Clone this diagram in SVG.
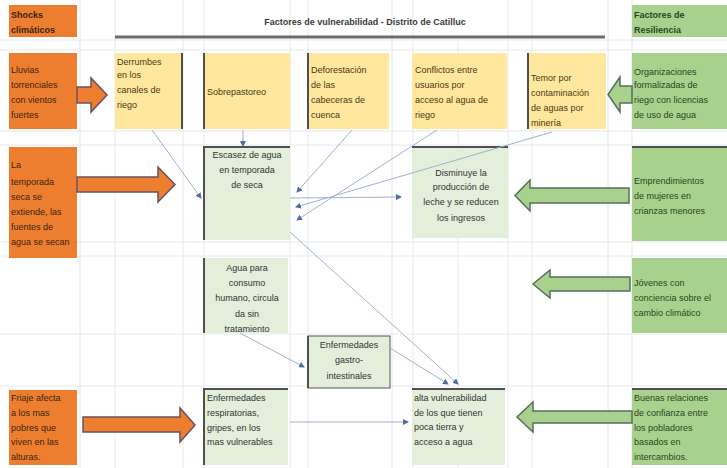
<svg xmlns="http://www.w3.org/2000/svg" width="727" height="468" viewBox="0 0 727 468">
<style>
text{font-family:"Liberation Sans",Arial,sans-serif;font-size:9px;}
.grid line{stroke:#e6e8ea;stroke-width:1;}
.or{fill:#EE7E2F;}
.ye{fill:#FFE79E;}
.gr{fill:#A9D18E;}
.lg{fill:#E3EFDA;}
.dk{stroke:#4f4f4f;stroke-width:2;fill:none;}
.tor{fill:#3a2410;}
.tgr{fill:#2a4620;}
.tye{fill:#4a3a12;}
.tlg{fill:#333;}
.c{text-anchor:middle;}
.b{font-weight:bold;}
.ao{fill:#EE7E2F;stroke:#6b5062;stroke-width:1.5;}
.ag{fill:#A9D18E;stroke:#55705a;stroke-width:1.5;}
.conn line{stroke:#9fb2cc;stroke-width:1;marker-end:url(#ah);}
</style>
<defs>
<marker id="ah" markerWidth="6" markerHeight="6" refX="5" refY="3" orient="auto" markerUnits="userSpaceOnUse">
<path d="M0,0 L6,3 L0,6 z" fill="#4a6fa5"/>
</marker>
</defs>
<rect width="727" height="468" fill="#fff"/>
<g class="grid">
<line x1="80" y1="0" x2="80" y2="468"/><line x1="115" y1="0" x2="115" y2="468"/>
<line x1="183" y1="0" x2="183" y2="468"/><line x1="204" y1="0" x2="204" y2="468"/>
<line x1="290" y1="0" x2="290" y2="468"/><line x1="308" y1="0" x2="308" y2="468"/>
<line x1="392" y1="0" x2="392" y2="468"/><line x1="413" y1="0" x2="413" y2="468"/>
<line x1="458" y1="40" x2="458" y2="468"/><line x1="508" y1="0" x2="508" y2="468"/>
<line x1="532" y1="0" x2="532" y2="468"/><line x1="608" y1="0" x2="608" y2="468"/>
<line x1="632" y1="0" x2="632" y2="468"/>
<line x1="0" y1="40" x2="727" y2="40"/><line x1="0" y1="50" x2="727" y2="50"/>
<line x1="0" y1="131" x2="727" y2="131"/><line x1="0" y1="145" x2="727" y2="145"/>
<line x1="0" y1="242" x2="727" y2="242"/><line x1="0" y1="256" x2="727" y2="256"/>
<line x1="0" y1="334" x2="727" y2="334"/><line x1="0" y1="386" x2="727" y2="386"/>
</g>
<g id="header">
<rect class="or" x="9" y="5" width="68" height="32"/>
<text class="tor b" x="11" y="18">Shocks</text>
<text class="tor b" x="11" y="33">climáticos</text>
<text class="b" x="365" y="25" text-anchor="middle" fill="#3a3a3a">Factores de vulnerabilidad - Distrito de Catilluc</text>
<line x1="115" y1="37" x2="605" y2="37" stroke="#6d6d6d" stroke-width="3"/>
<rect class="gr" x="632" y="5" width="95" height="32"/>
<text class="tgr b" x="634" y="18">Factores de</text>
<text class="tgr b" x="634" y="33">Resiliencia</text>
</g>
<g id="lluvias">
<rect class="or" x="9" y="53" width="68" height="76"/>
<text class="tor" x="11" y="73">Lluvias</text><text class="tor" x="11" y="88">torrenciales</text>
<text class="tor" x="11" y="103">con vientos</text><text class="tor" x="11" y="118">fuertes</text>
</g>
<g id="derrumbes">
<rect class="ye" x="115" y="53" width="67" height="76"/>
<line class="dk" x1="182" y1="53" x2="182" y2="129"/>
<text class="tye" x="117" y="65">Derrumbes</text><text class="tye" x="117" y="78">en los</text>
<text class="tye" x="117" y="93">canales de</text><text class="tye" x="117" y="108">riego</text>
</g>
<g id="sobrepastoreo">
<rect class="ye" x="204" y="53" width="86" height="76"/>
<line class="dk" x1="204" y1="53" x2="204" y2="129"/>
<text class="tye" x="207" y="95">Sobrepastoreo</text>
</g>
<g id="deforestacion">
<rect class="ye" x="308" y="53" width="81" height="76"/>
<line class="dk" x1="308" y1="53" x2="308" y2="129"/>
<text class="tye" x="311" y="73">Deforestación</text><text class="tye" x="311" y="88">de las</text>
<text class="tye" x="311" y="103">cabeceras de</text><text class="tye" x="311" y="118">cuenca</text>
</g>
<g id="conflictos">
<rect class="ye" x="412" y="53" width="95" height="76"/>
<text class="tye" x="415" y="73">Conflictos entre</text><text class="tye" x="415" y="88">usuarios por</text>
<text class="tye" x="415" y="103">acceso al agua de</text><text class="tye" x="415" y="118">riego</text>
</g>
<g id="temor">
<rect class="ye" x="528" y="53" width="78" height="76"/>
<line class="dk" x1="528" y1="53" x2="528" y2="129"/>
<text class="tye" x="531" y="81">Temor por</text><text class="tye" x="531" y="96">contaminación</text>
<text class="tye" x="531" y="111">de aguas por</text><text class="tye" x="531" y="126">minería</text>
</g>
<g id="organizaciones">
<rect class="gr" x="632" y="53" width="95" height="76"/>
<text class="tgr" x="634" y="75">Organizaciones</text><text class="tgr" x="634" y="88">formalizadas de</text>
<text class="tgr" x="634" y="103">riego con licencias</text><text class="tgr" x="634" y="118">de uso de agua</text>
</g>
<g id="temporada">
<rect class="or" x="9" y="147" width="68" height="111"/>
<text class="tor" x="11" y="168">La</text><text class="tor" x="11" y="185">temporada</text>
<text class="tor" x="11" y="200">seca se</text><text class="tor" x="11" y="215">extiende, las</text>
<text class="tor" x="11" y="230">fuentes de</text><text class="tor" x="11" y="245">agua se secan</text>
</g>
<g id="escasez">
<rect class="lg" x="204" y="147" width="86" height="93"/>
<path class="dk" d="M204,240 V147 H290"/>
<text class="tlg c" x="247" y="158">Escasez de agua</text><text class="tlg c" x="247" y="173">en temporada</text>
<text class="tlg c" x="247" y="188">de seca</text>
</g>
<g id="disminuye">
<rect class="lg" x="412" y="147" width="96" height="91"/>
<line class="dk" x1="412" y1="147" x2="508" y2="147"/>
<text class="tlg c" x="461" y="176">Disminuye la</text><text class="tlg c" x="461" y="190">producción de</text>
<text class="tlg c" x="461" y="205">leche y se reducen</text><text class="tlg c" x="461" y="221">los ingresos</text>
</g>
<g id="emprendimientos">
<rect class="gr" x="632" y="147" width="95" height="94"/>
<line class="dk" x1="632" y1="147" x2="727" y2="147"/>
<text class="tgr" x="634" y="184">Emprendimientos</text><text class="tgr" x="634" y="199">de mujeres en</text>
<text class="tgr" x="634" y="214">crianzas menores</text>
</g>
<g id="agua">
<rect class="lg" x="204" y="258" width="84" height="75"/>
<line class="dk" x1="204" y1="258" x2="204" y2="333"/>
<text class="tlg c" x="247" y="271">Agua para</text><text class="tlg c" x="247" y="286">consumo</text>
<text class="tlg c" x="247" y="301">humano, circula</text><text class="tlg c" x="247" y="317">da sin</text>
<text class="tlg c" x="247" y="332">tratamiento</text>
</g>
<g id="jovenes">
<rect class="gr" x="632" y="258" width="95" height="75"/>
<text class="tgr" x="634" y="286">Jóvenes con</text><text class="tgr" x="634" y="301">conciencia sobre el</text>
<text class="tgr" x="634" y="316">cambio climático</text>
</g>
<g id="gastro">
<rect class="lg" x="308" y="336" width="82" height="52" stroke="#555" stroke-width="1"/>
<line class="dk" x1="308" y1="336" x2="308" y2="388"/>
<text class="tlg c" x="349" y="348">Enfermedades</text><text class="tlg c" x="349" y="363">gastro-</text>
<text class="tlg c" x="349" y="379">intestinales</text>
</g>
<g id="friaje">
<rect class="or" x="9" y="390" width="68" height="75"/>
<text class="tor" x="11" y="401">Friaje afecta</text><text class="tor" x="11" y="416">a  los mas</text>
<text class="tor" x="11" y="431">pobres que</text><text class="tor" x="11" y="445">viven en las</text>
<text class="tor" x="11" y="460">alturas.</text>
</g>
<g id="respiratorias">
<rect class="lg" x="204" y="389" width="84" height="76"/>
<path class="dk" d="M204,465 V389 H288"/>
<text class="tlg" x="207" y="401">Enfermedades</text><text class="tlg" x="207" y="416">respiratorias,</text>
<text class="tlg" x="207" y="431">gripes, en los</text><text class="tlg" x="207" y="445">mas vulnerables</text>
</g>
<g id="alta">
<rect class="lg" x="412" y="389" width="93" height="76"/>
<line class="dk" x1="412" y1="389" x2="505" y2="389"/>
<text class="tlg" x="414" y="401">alta vulnerabilidad</text><text class="tlg" x="414" y="416">de los que tienen</text>
<text class="tlg" x="414" y="430">poca tierra y</text><text class="tlg" x="414" y="445">acceso a agua</text>
</g>
<g id="buenas">
<rect class="gr" x="632" y="389" width="95" height="76"/>
<line class="dk" x1="632" y1="389" x2="727" y2="389"/>
<text class="tgr" x="634" y="401">Buenas relaciones</text><text class="tgr" x="634" y="416">de confianza entre</text>
<text class="tgr" x="634" y="431">los pobladores</text><text class="tgr" x="634" y="445">basados en</text>
<text class="tgr" x="634" y="460">intercambios.</text>
</g>
<g id="block-arrows">
<path class="ao" d="M77,87 H91 V78 L107,95 L91,112 V103 H77 Z"/>
<path class="ao" d="M77,177 H158 V167 L175,184.5 L158,202 V192 H77 Z"/>
<path class="ao" d="M83,417 H180 V408 L195,425 L180,442 V432 H83 Z"/>
<path class="ag" d="M632,86 H620 V77 L608,94.5 L620,112 V103 H632 Z"/>
<path class="ag" d="M629,188 H530 V180 L515,195.5 L530,211 V203 H629 Z"/>
<path class="ag" d="M630,277 H550 V270 L533,284 L550,298 V291 H630 Z"/>
<path class="ag" d="M632,411 H533 V402 L517,417 L533,432 V423 H632 Z"/>
</g>
<g class="conn" id="connectors">
<line x1="152" y1="130" x2="201" y2="198"/>
<line x1="243" y1="130" x2="243" y2="146"/>
<line x1="352" y1="130" x2="297" y2="192"/>
<line x1="437" y1="130" x2="297" y2="220"/>
<line x1="552" y1="132" x2="296" y2="207"/>
<line x1="290" y1="198" x2="401" y2="197"/>
<line x1="290" y1="232" x2="458" y2="384"/>
<line x1="240" y1="333" x2="304" y2="367"/>
<line x1="390" y1="348" x2="448" y2="384"/>
<line x1="290" y1="422" x2="408" y2="422"/>
</g>
</svg>
